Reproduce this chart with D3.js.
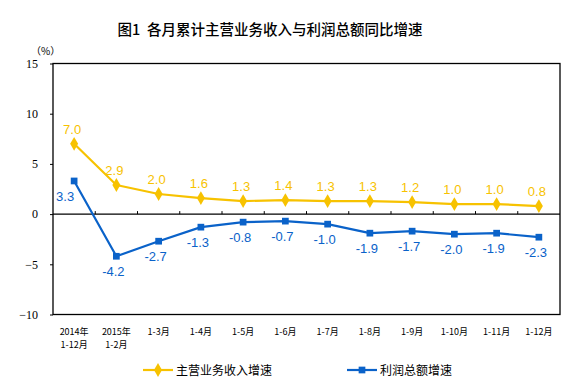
<!DOCTYPE html>
<html>
<head>
<meta charset="utf-8">
<script src="https://cdn.jsdelivr.net/npm/d3@7"></script>
<style>
  body { margin: 0; background: #fff; }
  svg { display: block; }
</style>
</head>
<body>
<div id="chart"></div>
<script>
// ======= data ========
var categories = [["2014年", "1-12月"], ["2015年", "1-2月"], ["1-3月"], ["1-4月"], ["1-5月"], ["1-6月"],
                  ["1-7月"], ["1-8月"], ["1-9月"], ["1-10月"], ["1-11月"], ["1-12月"]];
var revenueGrowth = [7.0, 2.9, 2.0, 1.6, 1.3, 1.4, 1.3, 1.3, 1.2, 1.0, 1.0, 0.8];
var profitGrowth = [3.3, -4.2, -2.7, -1.3, -0.8, -0.7, -1.0, -1.9, -1.7, -2.0, -1.9, -2.3];
var yTicks = [15, 10, 5, 0, -5, -10];
var seriesNames = ["主营业务收入增速", "利润总额增速"];

var width = 573;
var height = 385;
var margin = {top: 63.5, right: 13, bottom: 70.5, left: 53};
var yellow = "#F7C200";
var blue = "#0A62C9";

var svg = d3.select("#chart")
  .append("svg")
    .attr("width", width)
    .attr("height", height);

var plotW = width - margin.left - margin.right;
var plotH = height - margin.top - margin.bottom;

var x = d3.scaleBand()
    .domain(d3.range(categories.length))
    .range([margin.left, margin.left + plotW]);

var y = d3.scaleLinear()
    .domain([-10, 15])
    .range([margin.top + plotH, margin.top]);

// ======= title ========
svg.append("text")
    .attr("x", 270)
    .attr("y", 35)
    .attr("text-anchor", "middle")
    .style("font-family", "'Noto Sans CJK SC', sans-serif")
    .style("font-size", "14.5px")
    .style("font-weight", "500")
    .text("图1\u00a0\u00a0各月累计主营业务收入与利润总额同比增速");

svg.append("text")
    .attr("x", 31)
    .attr("y", 55)
    .style("font-family", "'Noto Sans CJK SC', sans-serif")
    .style("font-size", "10px")
    .text("（%）");

// ======= frame ========
svg.append("rect")
    .attr("x", margin.left)
    .attr("y", margin.top)
    .attr("width", plotW)
    .attr("height", plotH)
    .style("fill", "none")
    .style("stroke", "#000")
    .style("stroke-width", 1.3);

// y axis
var yAxis = svg.append("g")
    .attr("transform", "translate(" + margin.left + ",0)")
    .call(d3.axisLeft(y).tickValues(yTicks).tickSize(3).tickPadding(12));
yAxis.select(".domain").remove();
yAxis.selectAll("text")
    .style("font-family", "'Liberation Serif', serif")
    .style("font-size", "12px");

// zero line with category separators
svg.append("line")
    .attr("x1", margin.left).attr("x2", margin.left + plotW)
    .attr("y1", y(0)).attr("y2", y(0))
    .style("stroke", "#000")
    .style("stroke-width", 1.2);

svg.selectAll(".sep")
    .data(d3.range(1, categories.length))
  .enter().append("line")
    .attr("class", "sep")
    .attr("x1", function(d){ return x(d); })
    .attr("x2", function(d){ return x(d); })
    .attr("y1", y(0) - 3)
    .attr("y2", y(0))
    .style("stroke", "#000");

// x labels, one text per line
var xLines = [];
categories.forEach(function(c, i){
    c.forEach(function(t, j){ xLines.push({t: t, i: i, j: j}); });
});
svg.selectAll(".xlab")
    .data(xLines)
  .enter().append("text")
    .attr("class", "xlab")
    .attr("text-anchor", "middle")
    .attr("x", function(d){ return x(d.i) + x.bandwidth() / 2; })
    .attr("y", function(d){ return y(-10) + 20 + d.j * 13.5; })
    .style("font-family", "'Noto Sans CJK SC', sans-serif")
    .style("font-size", "9px")
    .text(function(d){ return d.t; });

// ======= lines ========
var cx = function(d, i){ return x(i) + x.bandwidth() / 2; };
var line = d3.line()
    .x(cx)
    .y(function(d){ return y(d); });

svg.append("path")
    .datum(profitGrowth)
    .attr("d", line)
    .style("fill", "none")
    .style("stroke", blue)
    .style("stroke-width", 2.2)
    .style("stroke-linejoin", "round");

svg.append("path")
    .datum(revenueGrowth)
    .attr("d", line)
    .style("fill", "none")
    .style("stroke", yellow)
    .style("stroke-width", 2.2)
    .style("stroke-linejoin", "round");

var diamond = d3.symbol().type(d3.symbolDiamond).size(55);
var square = d3.symbol().type(d3.symbolSquare).size(45);

svg.selectAll(".rev")
    .data(revenueGrowth)
  .enter().append("path")
    .attr("class", "rev")
    .attr("d", diamond)
    .attr("transform", function(d, i){ return "translate(" + cx(d, i) + "," + y(d) + ")"; })
    .style("fill", yellow);

svg.selectAll(".prof")
    .data(profitGrowth)
  .enter().append("path")
    .attr("class", "prof")
    .attr("d", square)
    .attr("transform", function(d, i){ return "translate(" + cx(d, i) + "," + y(d) + ")"; })
    .style("fill", blue);

// ======= labels ========
svg.selectAll(".revLab")
    .data(revenueGrowth)
  .enter().append("text")
    .attr("class", "revLab")
    .attr("x", function(d, i){ return cx(d, i) - 2; })
    .attr("y", function(d){ return y(d) - 10; })
    .attr("text-anchor", "middle")
    .style("font-family", "'Liberation Sans', Arial, sans-serif")
    .style("font-size", "13px")
    .style("fill", yellow)
    .text(function(d){ return d.toFixed(1); });

svg.selectAll(".profLab")
    .data(profitGrowth)
  .enter().append("text")
    .attr("class", "profLab")
    .attr("x", function(d, i){ return cx(d, i) - (i == 0 ? 9 : 3); })
    .attr("y", function(d){ return y(d) + 20; })
    .attr("text-anchor", "middle")
    .style("font-family", "'Liberation Sans', Arial, sans-serif")
    .style("font-size", "13px")
    .style("fill", blue)
    .text(function(d){ return d.toFixed(1); });

// ======= legend ========
var legend = [{x: 143, color: yellow, sym: diamond}, {x: 347, color: blue, sym: square}];
var lg = svg.selectAll(".legend")
    .data(legend)
  .enter().append("g")
    .attr("class", "legend")
    .attr("transform", function(d){ return "translate(" + d.x + ",370)"; });
lg.append("line")
    .attr("x1", 0).attr("x2", 30)
    .style("stroke", function(d){ return d.color; })
    .style("stroke-width", 2.2);
lg.append("path")
    .attr("d", function(d){ return d.sym(); })
    .attr("transform", "translate(15,0)")
    .style("fill", function(d){ return d.color; });
lg.append("text")
    .attr("x", 33)
    .attr("y", 4.5)
    .style("font-family", "'Noto Sans CJK SC', sans-serif")
    .style("font-size", "12px")
    .text(function(d, i){ return seriesNames[i]; });
</script>
</body>
</html>
